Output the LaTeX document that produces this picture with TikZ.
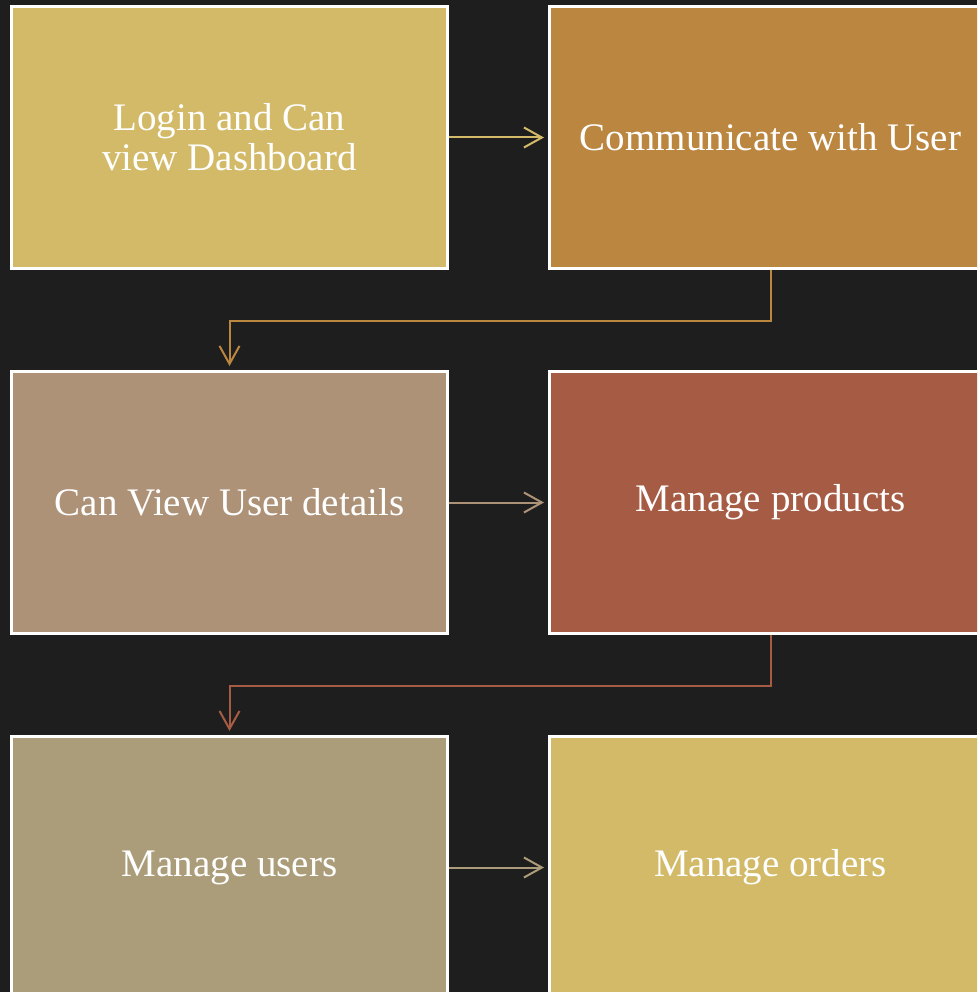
\documentclass[tikz,border=0pt]{standalone}
\usepackage{fontspec}
\setmainfont{Liberation Serif}
\usepackage{xcolor}
\usetikzlibrary{arrows.meta, positioning}

\definecolor{bgdark}{HTML}{1E1E1E}
\definecolor{gold}{HTML}{D3BA68}
\definecolor{ochre}{HTML}{BB8640}
\definecolor{taupe}{HTML}{AD9278}
\definecolor{rust}{HTML}{A65C44}
\definecolor{khaki}{HTML}{AC9D7A}

\begin{document}
\begin{tikzpicture}[x=1pt, y=1pt,
			box/.style={draw=white, line width=3pt, text=white, align=center, minimum width=436pt, minimum height=262pt, font=\fontsize{39}{40}\selectfont},
			widebox/.style={box, minimum width=442pt},
			arrow/.style={-{Straight Barb[length=18pt, width=20pt]}, line width=2pt, shorten >=4pt}
			]
			
			% Background
			\useasboundingbox (0,0) rectangle (977,-992);
			\clip (0,0) rectangle (977,-992);
			\fill[bgdark] (0,0) rectangle (977,-992);
			
			% Row 1
			\node[box, fill=gold] (login) at (229.5,-137.5) {Login and Can\\view Dashboard};
			\node[widebox, fill=ochre, right=99pt of login] (comm) {Communicate with User};
			
			% Row 2
			\node[box, fill=taupe, below=100pt of login] (details) {Can View User details};
			\node[widebox, fill=rust, right=99pt of details] (products) {Manage products};
			
			% Row 3
			\node[box, fill=khaki, below=100pt of details] (users) {Manage users};
			\node[widebox, fill=gold, right=99pt of users] (orders) {Manage orders};
			
			% Arrows
			\draw[arrow, gold] (login) -- (comm);
			\draw[arrow, ochre] (comm.south) -- ++(0,-51) -| (details.north);
			\draw[arrow, taupe] (details) -- (products);
			\draw[arrow, rust] (products.south) -- ++(0,-51) -| (users.north);
			\draw[arrow, khaki] (users) -- (orders);
			
		\end{tikzpicture}
\end{document}
